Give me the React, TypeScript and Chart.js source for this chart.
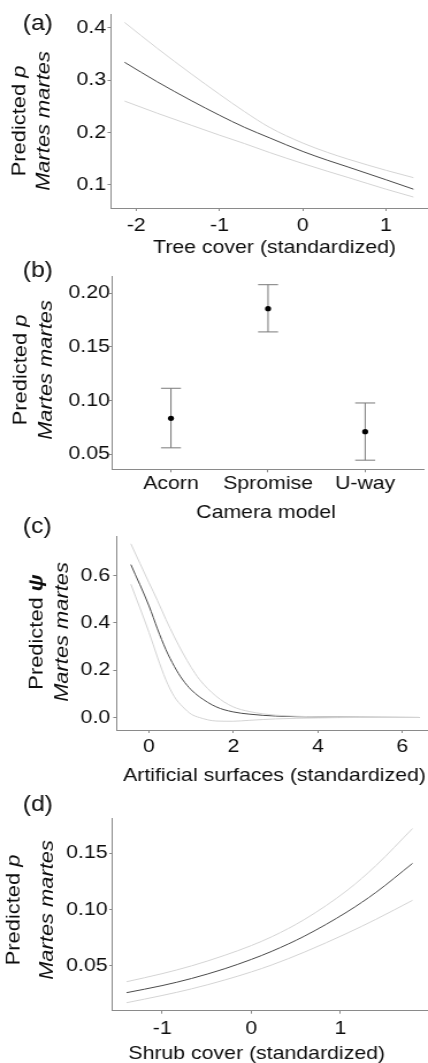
import React, { useEffect, useRef } from 'react';
import { Chart, registerables } from 'chart.js';

Chart.register(...registerables);

// ---------- data ----------
// (a) Tree cover
const treeX = [-2.14, -1.75, -1.34, -1.0, -0.7, -0.4, 0, 0.3, 0.55, 1.0, 1.33];
const treeFit = [0.334, 0.297, 0.261, 0.233, 0.21, 0.19, 0.164, 0.147, 0.134, 0.11, 0.092];
const treeUpper = [0.41, 0.361, 0.312, 0.273, 0.24, 0.21, 0.18, 0.162, 0.149, 0.128, 0.114];
const treeLower = [0.26, 0.237, 0.214, 0.195, 0.179, 0.162, 0.141, 0.126, 0.114, 0.092, 0.077];
const treeXTicks = [-2, -1, 0, 1];
const treeYTicks = [0.1, 0.2, 0.3, 0.4];

// (b) Camera model
const cameraModels = ['Acorn', 'Spromise', 'U-way'];
const cameraFit = [0.0835, 0.1857, 0.0711];
const cameraLower = [0.056, 0.164, 0.0445];
const cameraUpper = [0.1115, 0.208, 0.0978];
const cameraYTicks = [0.05, 0.1, 0.15, 0.2];

// (c) Artificial surfaces
const artX = [-0.43, 0.0, 0.2, 0.4, 0.6, 0.8, 1.0, 1.19, 1.59, 1.98, 2.38, 3.0, 4.0, 5.0, 6.4];
const artFit = [0.647, 0.472, 0.375, 0.287, 0.216, 0.159, 0.117, 0.088, 0.045, 0.024, 0.014, 0.006, 0.002, 0.001, 0.0];
const artUpper = [0.735, 0.57, 0.495, 0.415, 0.341, 0.273, 0.212, 0.162, 0.09, 0.046, 0.025, 0.01, 0.003, 0.001, 0.0];
const artLower = [0.564, 0.36, 0.255, 0.159, 0.088, 0.045, 0.014, 0.0, -0.015, -0.016, -0.012, -0.006, -0.002, 0.0, 0.0];
const artXTicks = [0, 2, 4, 6];
const artYTicks = [0, 0.2, 0.4, 0.6];

// (d) Shrub cover
const shrubX = [-1.4, -1.0, -0.67, -0.3, 0, 0.23, 0.6, 1.08, 1.4, 1.81];
const shrubFit = [0.0263, 0.0326, 0.0389, 0.0475, 0.0558, 0.063, 0.0766, 0.0982, 0.1153, 0.141];
const shrubUpper = [0.036, 0.0432, 0.0501, 0.0594, 0.0681, 0.0759, 0.0914, 0.1173, 0.1391, 0.1719];
const shrubLower = [0.0174, 0.0238, 0.0297, 0.0375, 0.0447, 0.0509, 0.0624, 0.0792, 0.0914, 0.1082];
const shrubXTicks = [-1, 0, 1];
const shrubYTicks = [0.05, 0.1, 0.15];

// ---------- styling ----------
const LW = 372;
const S = 428 / LW; // horizontal stretch of the figure
const FONT = '"Liberation Sans", Arial, Helvetica, sans-serif';
const AXIS = '#8a8a8a';
const TEXT = '#0d0d0d';
const MAIN = '#4a4a4a';
const CI = '#d4d4d4';
const TICK_SIZE = 18.5;
const TITLE_SIZE = 18.5;
const YTITLE_SIZE = 19;
const TAG_SIZE = 21.5;

type Part = { t: string; italic?: boolean; bold?: boolean };

interface PanelCfg {
  type: 'line' | 'scatter';
  top: number;
  height: number;
  plotLeft: number;
  plotTop: number;
  plotBottom: number;
  xMin: number; xMax: number; yMin: number; yMax: number;
  xTicks: number[]; xLabel: (v: number) => string;
  yTicks: number[]; yDec: number;
  xTickPad: number; yTickPad: number;
  tag: string; tagBase: number;
  xTitle: string; xTitleX: number; xTitleBase: number;
  yLine1: Part[]; yLine2: Part[]; yB1: number; yB2: number; yCenter: number;
  datasets: any[];
  errorBars?: { lo: number[]; hi: number[] };
}

const lineDs = (xs: number[], ys: number[], color: string, width: number) => ({
  data: xs.map((x, i) => ({ x, y: ys[i] })),
  borderColor: color,
  borderWidth: width,
  pointRadius: 0,
  fill: false,
  cubicInterpolationMode: 'monotone',
});

const curveSets = (xs: number[], fit: number[], lo: number[], hi: number[]) => [
  lineDs(xs, hi, CI, 1),
  lineDs(xs, lo, CI, 1),
  lineDs(xs, fit, MAIN, 1),
];

const predP: Part[] = [{ t: 'Predicted ' }, { t: 'p', italic: true }];
const predPsi: Part[] = [{ t: 'Predicted ' }, { t: 'ψ', italic: true, bold: true }];
const martes: Part[] = [{ t: 'Martes martes', italic: true }];

const panels: PanelCfg[] = [
  {
    type: 'line', top: 0, height: 262,
    plotLeft: 111, plotTop: 14, plotBottom: 208,
    xMin: -2.303, xMax: 1.505, yMin: 0.0561, yMax: 0.4261,
    xTicks: treeXTicks, xLabel: (v) => String(v),
    yTicks: treeYTicks, yDec: 1, xTickPad: 3.5, yTickPad: 1.2,
    tag: '(a)', tagBase: 30,
    xTitle: 'Tree cover (standardized)', xTitleX: 274.5, xTitleBase: 253,
    yLine1: predP, yLine2: martes, yB1: 25, yB2: 50, yCenter: 121,
    datasets: curveSets(treeX, treeFit, treeLower, treeUpper),
  },
  {
    type: 'scatter', top: 255, height: 270,
    plotLeft: 112.7, plotTop: 276, plotBottom: 469.3,
    xMin: -0.6, xMax: 2.6, yMin: 0.036, yMax: 0.2161,
    xTicks: [0, 1, 2], xLabel: (v) => cameraModels[v] ?? '',
    yTicks: cameraYTicks, yDec: 2, xTickPad: 1, yTickPad: -0.5,
    tag: '(b)', tagBase: 277.3,
    xTitle: 'Camera model', xTitleX: 266, xTitleBase: 518,
    yLine1: predP, yLine2: martes, yB1: 26, yB2: 52, yCenter: 370,
    datasets: [
      {
        data: cameraFit.map((y, i) => ({ x: i, y })),
        backgroundColor: '#000',
        borderColor: '#000',
        borderWidth: 0,
        pointRadius: 2.6,
      },
    ],
    errorBars: { lo: cameraLower, hi: cameraUpper },
  },
  {
    type: 'line', top: 505, height: 290,
    plotLeft: 116.7, plotTop: 536.7, plotBottom: 730,
    xMin: -0.765, xMax: 6.608, yMin: -0.053, yMax: 0.765,
    xTicks: artXTicks, xLabel: (v) => String(v),
    yTicks: artYTicks, yDec: 1, xTickPad: 3.2, yTickPad: 2.6,
    tag: '(c)', tagBase: 533,
    xTitle: 'Artificial surfaces (standardized)', xTitleX: 274.5, xTitleBase: 780.7,
    yLine1: predPsi, yLine2: martes, yB1: 43, yB2: 68, yCenter: 632,
    datasets: curveSets(artX, artFit, artLower, artUpper),
  },
  {
    type: 'line', top: 785, height: 278,
    plotLeft: 112.7, plotTop: 818.3, plotBottom: 1010.7,
    xMin: -1.556, xMax: 1.984, yMin: 0.0103, yMax: 0.181,
    xTicks: shrubXTicks, xLabel: (v) => String(v),
    yTicks: shrubYTicks, yDec: 2, xTickPad: 4.2, yTickPad: 1.5,
    tag: '(d)', tagBase: 810.6,
    xTitle: 'Shrub cover (standardized)', xTitleX: 256.7, xTitleBase: 1058.5,
    yLine1: predP, yLine2: martes, yB1: 20, yB2: 53, yCenter: 910,
    datasets: curveSets(shrubX, shrubFit, shrubLower, shrubUpper),
  },
];

const partFont = (p: Part, size: number) =>
  `${p.italic ? 'italic ' : ''}${p.bold ? 'bold ' : ''}${size}px ${FONT}`;

function drawRotated(ctx: CanvasRenderingContext2D, parts: Part[], bx: number, cy: number) {
  ctx.save();
  ctx.translate(bx, cy);
  ctx.rotate(-Math.PI / 2);
  ctx.scale(S, 1 / S);
  ctx.textAlign = 'left';
  ctx.textBaseline = 'alphabetic';
  const widths = parts.map((p) => {
    ctx.font = partFont(p, YTITLE_SIZE);
    return ctx.measureText(p.t).width;
  });
  const total = widths.reduce((a, b) => a + b, 0);
  let x = -total / 2;
  parts.forEach((p, i) => {
    ctx.font = partFont(p, YTITLE_SIZE);
    ctx.fillText(p.t, x, 0);
    x += widths[i];
  });
  ctx.restore();
}

const makePlugin = (cfg: PanelCfg) => ({
  id: 'panelDecor',
  beforeDatasetsDraw(chart: any) {
    if (!cfg.errorBars) return;
    const ctx: CanvasRenderingContext2D = chart.ctx;
    const xs = chart.scales.x;
    const ys = chart.scales.y;
    const cap = 10 / S;
    ctx.save();
    ctx.strokeStyle = '#7a7a7a';
    ctx.lineWidth = 1;
    cfg.errorBars.lo.forEach((lo, i) => {
      const hi = cfg.errorBars!.hi[i];
      const px = xs.getPixelForValue(i);
      const pl = ys.getPixelForValue(lo);
      const ph = ys.getPixelForValue(hi);
      ctx.beginPath();
      ctx.moveTo(px, ph);
      ctx.lineTo(px, pl);
      ctx.moveTo(px - cap, ph);
      ctx.lineTo(px + cap, ph);
      ctx.moveTo(px - cap, pl);
      ctx.lineTo(px + cap, pl);
      ctx.stroke();
    });
    ctx.restore();
  },
  afterDraw(chart: any) {
    const ctx: CanvasRenderingContext2D = chart.ctx;
    ctx.save();
    ctx.fillStyle = TEXT;
    ctx.textBaseline = 'alphabetic';
    ctx.textAlign = 'left';
    ctx.font = `${TAG_SIZE}px ${FONT}`;
    ctx.fillText(cfg.tag, 22.7 / S, cfg.tagBase - cfg.top);
    ctx.font = `${TITLE_SIZE}px ${FONT}`;
    ctx.textAlign = 'center';
    ctx.fillText(cfg.xTitle, cfg.xTitleX / S, cfg.xTitleBase - cfg.top);
    drawRotated(ctx, cfg.yLine1, cfg.yB1 / S, cfg.yCenter - cfg.top);
    drawRotated(ctx, cfg.yLine2, cfg.yB2 / S, cfg.yCenter - cfg.top);
    ctx.restore();
  },
});

function Panel({ cfg }: { cfg: PanelCfg }) {
  const ref = useRef<HTMLCanvasElement>(null);
  useEffect(() => {
    const canvas = ref.current;
    if (!canvas) return;
    const tickFont = { family: FONT, size: TICK_SIZE };
    const chart = new Chart(canvas, {
      type: cfg.type,
      data: { datasets: cfg.datasets },
      options: {
        responsive: false,
        animation: false,
        devicePixelRatio: 1,
        layout: { padding: { left: 0, right: 0, top: cfg.plotTop - cfg.top, bottom: 0 } },
        plugins: { legend: { display: false }, tooltip: { enabled: false } },
        scales: {
          x: {
            type: 'linear',
            min: cfg.xMin,
            max: cfg.xMax,
            afterBuildTicks: (sc: any) => {
              sc.ticks = cfg.xTicks.map((v) => ({ value: v }));
            },
            afterFit: (sc: any) => {
              sc.height = cfg.top + cfg.height - cfg.plotBottom;
            },
            ticks: {
              callback: (v: any) => cfg.xLabel(Number(v)),
              font: tickFont,
              color: TEXT,
              padding: cfg.xTickPad,
              autoSkip: false,
              maxRotation: 0,
              minRotation: 0,
            },
            grid: { drawOnChartArea: false, drawTicks: true, tickLength: 3, color: AXIS, lineWidth: 1 },
            border: { display: true, color: AXIS, width: 1 },
            title: { display: false },
          },
          y: {
            type: 'linear',
            min: cfg.yMin,
            max: cfg.yMax,
            afterBuildTicks: (sc: any) => {
              sc.ticks = cfg.yTicks.map((v) => ({ value: v }));
            },
            afterFit: (sc: any) => {
              sc.width = cfg.plotLeft / S;
            },
            ticks: {
              callback: (v: any) => Number(v).toFixed(cfg.yDec),
              font: tickFont,
              color: TEXT,
              padding: cfg.yTickPad,
              autoSkip: false,
            },
            grid: { drawOnChartArea: false, drawTicks: true, tickLength: 3, color: AXIS, lineWidth: 1 },
            border: { display: true, color: AXIS, width: 1 },
            title: { display: false },
          },
        },
      } as any,
      plugins: [makePlugin(cfg)],
    });
    return () => chart.destroy();
  }, [cfg]);
  return (
    <canvas
      ref={ref}
      width={LW}
      height={cfg.height}
      style={{
        position: 'absolute',
        left: 0,
        top: cfg.top,
        width: `${LW}px`,
        height: `${cfg.height}px`,
        transform: `scaleX(${S})`,
        transformOrigin: '0 0',
      }}
    />
  );
}

export default function App() {
  return (
    <div
      style={{
        position: 'absolute',
        left: 0,
        top: 0,
        width: 428,
        height: 1063,
        background: '#fff',
        overflow: 'hidden',
      }}
    >
      {panels.map((p) => (
        <Panel key={p.tag} cfg={p} />
      ))}
    </div>
  );
}
